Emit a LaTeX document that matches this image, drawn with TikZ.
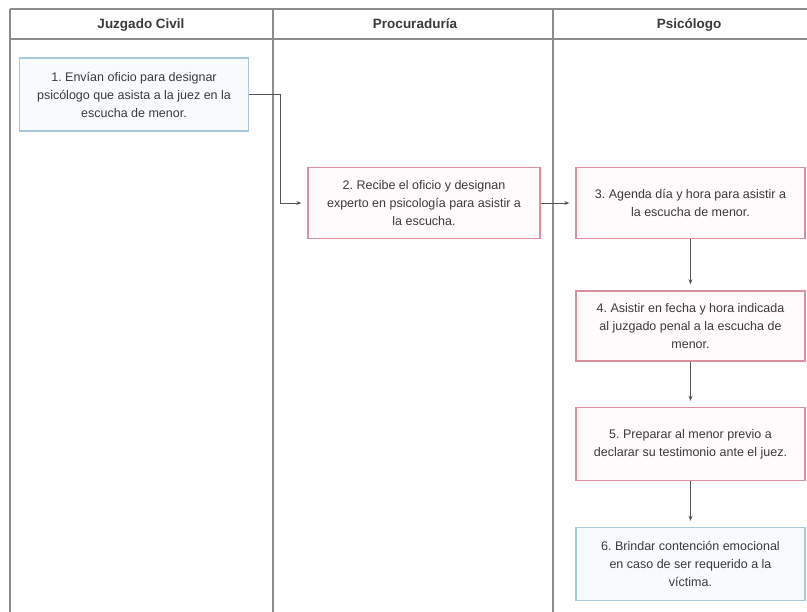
\documentclass[tikz,border=0pt]{standalone}
\usepackage{fontspec}
\setmainfont{Liberation Sans}
\usetikzlibrary{arrows.meta}
\frenchspacing
\definecolor{frameln}{HTML}{8C8C8C}
\definecolor{txt}{HTML}{3A3A3A}
\definecolor{blueb}{HTML}{A9C9DA}
\definecolor{bluef}{HTML}{F7FBFD}
\definecolor{pinkb}{HTML}{D9909C}
\definecolor{pinkf}{HTML}{FFFBFC}
\definecolor{conncol}{HTML}{555555}
\tikzset{
  lane/.style={draw=frameln, line width=1.6pt},
  head/.style={font=\fontsize{13.5}{16}\selectfont\bfseries, text=txt, anchor=base, inner sep=0pt},
  procbox/.style={draw=pinkb, fill=pinkf, line width=1.4pt, minimum width=230pt, minimum height=71pt,
     align=center, font=\fontsize{12.5}{18}\selectfont\frenchspacing, text=txt, inner sep=0pt},
  bluebox/.style={procbox, draw=blueb, fill=bluef},
  conn/.style={draw=conncol, line width=0.9pt, -{Stealth[length=5pt,width=4pt]}, shorten >=6pt},
}
\begin{document}
\begin{tikzpicture}[x=1pt,y=-1pt]
\useasboundingbox (0,0) rectangle (807,612);
\fill[white] (0,0) rectangle (807,612);
% lanes
\draw[lane] (10,9) -- (807,9);
\draw[lane] (10,39) -- (807,39);
\draw[lane] (10,9) -- (10,612);
\draw[lane] (273,9) -- (273,612);
\draw[lane] (553,9) -- (553,612);
\node[head] (h1) at (141,29) {Juzgado Civil};
\node[head] (h2) at (415,29) {Procuraduría};
\node[head] (h3) at (689,29) {Psicólogo};
% boxes
\node[bluebox, minimum width=229pt, minimum height=73pt] (b1) at (134,94.5) {1. Envían oficio para designar\\psicólogo que asista a la juez en la\\escucha de menor.};
\node[procbox, minimum width=232pt] (b2) at (424,203) {2. Recibe el oficio y designan\\experto en psicología para asistir a\\la escucha.};
\node[procbox, minimum width=229pt] (b3) at (690.5,203) {3. Agenda día y hora para asistir a\\la escucha de menor.};
\node[procbox, minimum width=229pt, minimum height=70pt] (b4) at (690.5,326) {4. Asistir en fecha y hora indicada\\al juzgado penal a la escucha de\\menor.};
\node[procbox, minimum width=229pt, minimum height=73pt] (b5) at (690.5,444) {5. Preparar al menor previo a\\declarar su testimonio ante el juez.};
\node[bluebox, minimum width=229pt, minimum height=73pt] (b6) at (690.5,564) {6. Brindar contención emocional\\en caso de ser requerido a la\\víctima.};
% connectors
\coordinate (k1) at (280,94.5);
\draw[conn] (b1.east) -- (k1) |- (b2.west);
\draw[conn] (b2.east) -- (b3.west);
\draw[conn] (b3.south) -- (b4.north);
\draw[conn] (b4.south) -- (b5.north);
\draw[conn] (b5.south) -- (b6.north);
\end{tikzpicture}
\end{document}
